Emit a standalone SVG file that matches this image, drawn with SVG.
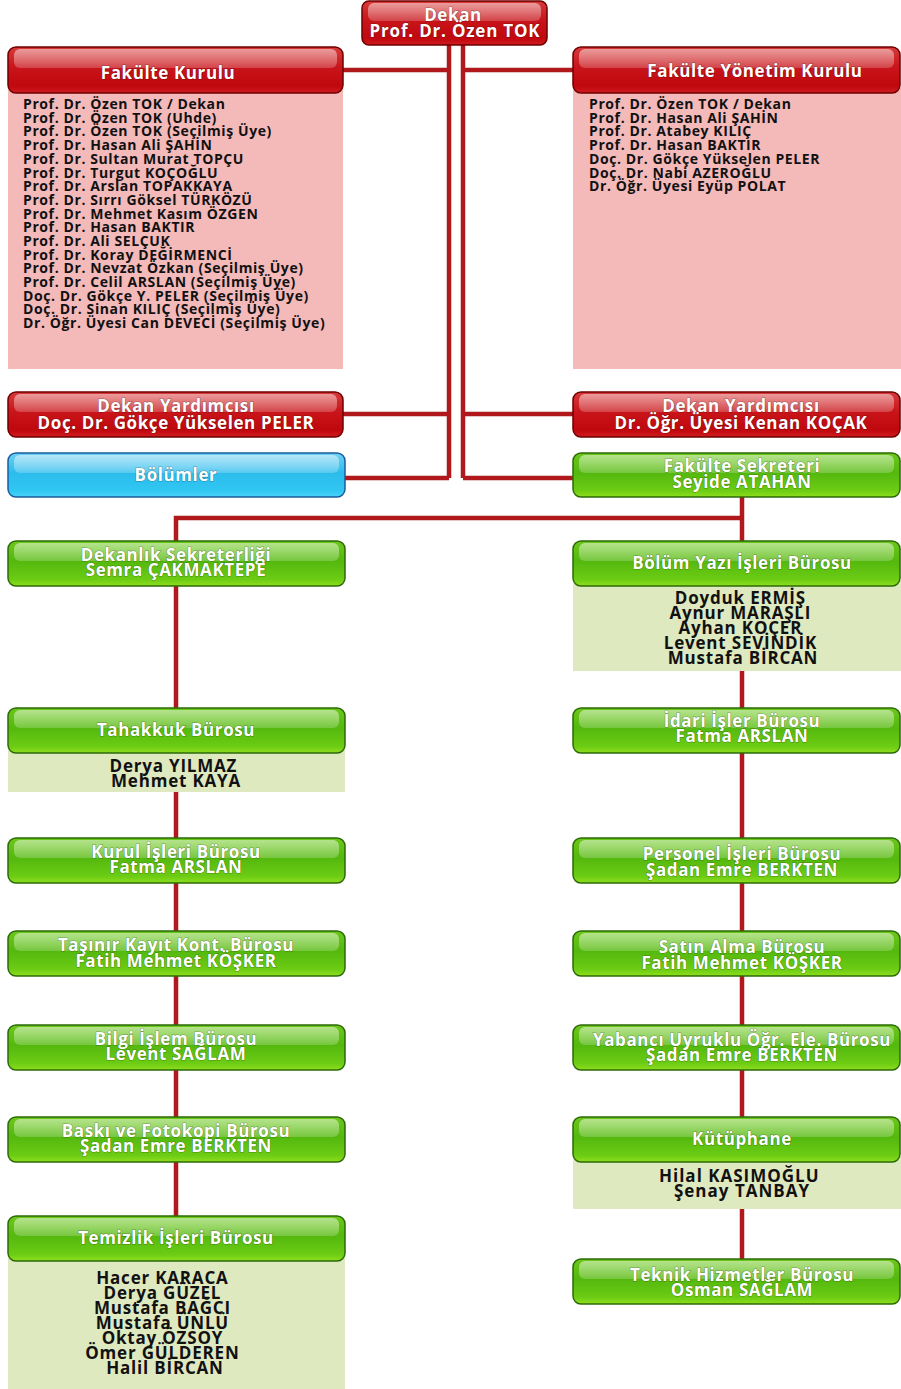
<svg xmlns="http://www.w3.org/2000/svg" width="901" height="1389" viewBox="0 0 901 1389">
<defs>
<linearGradient id="gRed" x1="0" y1="0" x2="0" y2="1">
<stop offset="0" stop-color="#d83a3a"/><stop offset="0.45" stop-color="#c8141a"/><stop offset="0.85" stop-color="#c0080e"/><stop offset="1" stop-color="#d01c20"/>
</linearGradient>
<linearGradient id="gGreen" x1="0" y1="0" x2="0" y2="1">
<stop offset="0" stop-color="#6cc81a"/><stop offset="0.45" stop-color="#54b80e"/><stop offset="0.85" stop-color="#6ccc14"/><stop offset="1" stop-color="#8ede1c"/>
</linearGradient>
<linearGradient id="gBlue" x1="0" y1="0" x2="0" y2="1">
<stop offset="0" stop-color="#6fd0f4"/><stop offset="0.45" stop-color="#2cbcec"/><stop offset="0.85" stop-color="#30c6f2"/><stop offset="1" stop-color="#48d4fa"/>
</linearGradient>
<linearGradient id="gHl" x1="0" y1="0" x2="0" y2="1">
<stop offset="0" stop-color="#ffffff" stop-opacity="0.5"/><stop offset="1" stop-color="#ffffff" stop-opacity="0.2"/>
</linearGradient>
<style>
.red{fill:url(#gRed);stroke:#6e0000;stroke-width:1.5}
.green{fill:url(#gGreen);stroke:#2c6a08;stroke-width:1.5}
.blue{fill:url(#gBlue);stroke:#1a5c9c;stroke-width:1.5}
.hl{fill:url(#gHl)}
.pink{fill:#f4b9b9}
.lg{fill:#dfe9c0}
.ht{font-family:"Open Sans","DejaVu Sans",sans-serif;font-weight:700;font-size:17px;letter-spacing:0.6px;fill:#ffffff;text-anchor:middle;paint-order:stroke;stroke:#000000;stroke-opacity:0.3;stroke-width:1.2px}
.lt{font-family:"Open Sans","DejaVu Sans",sans-serif;font-weight:700;font-size:14px;letter-spacing:0.6px;fill:#111111}
.bt{font-family:"Open Sans","DejaVu Sans",sans-serif;font-weight:700;font-size:17px;letter-spacing:0.8px;fill:#111111;text-anchor:middle}
.conn{fill:none;stroke:#b0181c;stroke-width:4.5}
</style>
</defs>
<rect width="901" height="1389" fill="#ffffff"/>

<g id="connectors">
<path class="conn" d="M449 45 V478 M463 45 V478 M343 70 H449 M463 70 H573 M343 414 H449 M463 414 H573 M345 478 H449 M463 478 H573 M742 497 V518 H176 V1216 M742 518 V1259"/>
</g>

<g id="dekan">
<rect class="red" x="362" y="1" width="185" height="44" rx="7"/>
<rect class="hl" x="368" y="3" width="173" height="18" rx="6"/>
<text class="ht" x="453" y="21">Dekan</text>
<text class="ht" x="455" y="37" style="letter-spacing:0.8px">Prof. Dr. Özen TOK</text>
</g>

<g id="fakulte-kurulu">
<rect class="pink" x="8" y="88" width="335" height="281"/>
<rect class="red" x="8" y="47" width="335" height="46" rx="8"/>
<rect class="hl" x="14" y="49" width="323" height="19" rx="6"/>
<text class="ht" x="168" y="79">Fakülte Kurulu</text>
<text class="lt" x="23" y="109">
<tspan x="23" dy="0">Prof. Dr. Özen TOK / Dekan</tspan>
<tspan x="23" dy="13.7">Prof. Dr. Özen TOK (Uhde)</tspan>
<tspan x="23" dy="13.7">Prof. Dr. Özen TOK (Seçilmiş Üye)</tspan>
<tspan x="23" dy="13.7">Prof. Dr. Hasan Ali ŞAHİN</tspan>
<tspan x="23" dy="13.7">Prof. Dr. Sultan Murat TOPÇU</tspan>
<tspan x="23" dy="13.7">Prof. Dr. Turgut KOÇOĞLU</tspan>
<tspan x="23" dy="13.7">Prof. Dr. Arslan TOPAKKAYA</tspan>
<tspan x="23" dy="13.7">Prof. Dr. Sırrı Göksel TÜRKÖZÜ</tspan>
<tspan x="23" dy="13.7">Prof. Dr. Mehmet Kasım ÖZGEN</tspan>
<tspan x="23" dy="13.7">Prof. Dr. Hasan BAKTIR</tspan>
<tspan x="23" dy="13.7">Prof. Dr. Ali SELÇUK</tspan>
<tspan x="23" dy="13.7">Prof. Dr. Koray DEĞİRMENCİ</tspan>
<tspan x="23" dy="13.7">Prof. Dr. Nevzat Özkan (Seçilmiş Üye)</tspan>
<tspan x="23" dy="13.7">Prof. Dr. Celil ARSLAN (Seçilmiş Üye)</tspan>
<tspan x="23" dy="13.7">Doç. Dr. Gökçe Y. PELER (Seçilmiş Üye)</tspan>
<tspan x="23" dy="13.7">Doç. Dr. Sinan KILIÇ (Seçilmiş Üye)</tspan>
<tspan x="23" dy="13.7">Dr. Öğr. Üyesi Can DEVECİ (Seçilmiş Üye)</tspan>
</text>
</g>

<g id="fakulte-yonetim-kurulu">
<rect class="pink" x="573" y="88" width="328" height="281"/>
<rect class="red" x="573" y="47" width="327" height="46" rx="8"/>
<rect class="hl" x="579" y="49" width="315" height="19" rx="6"/>
<text class="ht" x="755" y="77">Fakülte Yönetim Kurulu</text>
<text class="lt" x="589" y="109">
<tspan x="589" dy="0">Prof. Dr. Özen TOK / Dekan</tspan>
<tspan x="589" dy="13.7">Prof. Dr. Hasan Ali ŞAHİN</tspan>
<tspan x="589" dy="13.7">Prof. Dr. Atabey KILIÇ</tspan>
<tspan x="589" dy="13.7">Prof. Dr. Hasan BAKTIR</tspan>
<tspan x="589" dy="13.7">Doç. Dr. Gökçe Yükselen PELER</tspan>
<tspan x="589" dy="13.7">Doç. Dr. Nabi AZEROĞLU</tspan>
<tspan x="589" dy="13.7">Dr. Öğr. Üyesi Eyüp POLAT</tspan>
</text>
</g>

<g id="dekan-yrd-1">
<rect class="red" x="8" y="392" width="335" height="45" rx="8"/>
<rect class="hl" x="14" y="394" width="323" height="18" rx="6"/>
<text class="ht" x="176" y="412">Dekan Yardımcısı</text>
<text class="ht" x="176" y="429">Doç. Dr. Gökçe Yükselen PELER</text>
</g>

<g id="dekan-yrd-2">
<rect class="red" x="573" y="392" width="327" height="45" rx="8"/>
<rect class="hl" x="579" y="394" width="315" height="18" rx="6"/>
<text class="ht" x="741" y="412">Dekan Yardımcısı</text>
<text class="ht" x="741" y="429">Dr. Öğr. Üyesi Kenan KOÇAK</text>
</g>

<g id="bolumler">
<rect class="blue" x="8" y="453" width="337" height="44" rx="8"/>
<rect class="hl" x="14" y="455" width="325" height="18" rx="6"/>
<text class="ht" x="176" y="481">Bölümler</text>
</g>

<g id="fakulte-sekreteri">
<rect class="green" x="573" y="453" width="327" height="44" rx="8"/>
<rect class="hl" x="579" y="455" width="315" height="18" rx="6"/>
<text class="ht" x="742" y="472">Fakülte Sekreteri</text>
<text class="ht" x="742" y="488">Seyide ATAHAN</text>
</g>

<g id="dekanlik-sekreterligi">
<rect class="green" x="8" y="541" width="337" height="45" rx="8"/>
<rect class="hl" x="14" y="543" width="325" height="18" rx="6"/>
<text class="ht" x="176" y="561">Dekanlık Sekreterliği</text>
<text class="ht" x="176" y="576">Semra ÇAKMAKTEPE</text>
</g>

<g id="bolum-yazi-isleri">
<rect class="lg" x="573" y="580" width="328" height="91"/>
<rect class="green" x="573" y="541" width="327" height="45" rx="8"/>
<rect class="hl" x="579" y="543" width="315" height="18" rx="6"/>
<text class="ht" x="742" y="569">Bölüm Yazı İşleri Bürosu</text>
<text class="bt" x="743" y="604">
<tspan x="743" dy="0">Doyduk ERMİŞ</tspan>
<tspan x="743" dy="15">Aynur MARAŞLI</tspan>
<tspan x="743" dy="15">Ayhan KOÇER</tspan>
<tspan x="743" dy="15">Levent SEVİNDİK</tspan>
<tspan x="743" dy="15">Mustafa BİRCAN</tspan>
</text>
</g>

<g id="tahakkuk">
<rect class="lg" x="8" y="747" width="337" height="45"/>
<rect class="green" x="8" y="708" width="337" height="45" rx="8"/>
<rect class="hl" x="14" y="710" width="325" height="18" rx="6"/>
<text class="ht" x="176" y="736">Tahakkuk Bürosu</text>
<text class="bt" x="176" y="772">
<tspan x="176" dy="0">Derya YILMAZ</tspan>
<tspan x="176" dy="15">Mehmet KAYA</tspan>
</text>
</g>

<g id="idari-isler">
<rect class="green" x="573" y="708" width="327" height="45" rx="8"/>
<rect class="hl" x="579" y="710" width="315" height="18" rx="6"/>
<text class="ht" x="742" y="727">İdari İşler Bürosu</text>
<text class="ht" x="742" y="742">Fatma ARSLAN</text>
</g>

<g id="kurul-isleri">
<rect class="green" x="8" y="838" width="337" height="45" rx="8"/>
<rect class="hl" x="14" y="840" width="325" height="18" rx="6"/>
<text class="ht" x="176" y="858">Kurul İşleri Bürosu</text>
<text class="ht" x="176" y="873">Fatma ARSLAN</text>
</g>

<g id="personel-isleri">
<rect class="green" x="573" y="838" width="327" height="45" rx="8"/>
<rect class="hl" x="579" y="840" width="315" height="18" rx="6"/>
<text class="ht" x="742" y="860">Personel İşleri Bürosu</text>
<text class="ht" x="742" y="876">Şadan Emre BERKTEN</text>
</g>

<g id="tasinir-kayit">
<rect class="green" x="8" y="931" width="337" height="45" rx="8"/>
<rect class="hl" x="14" y="933" width="325" height="18" rx="6"/>
<text class="ht" x="176" y="951">Taşınır Kayıt Kont. Bürosu</text>
<text class="ht" x="176" y="967">Fatih Mehmet KÖŞKER</text>
</g>

<g id="satin-alma">
<rect class="green" x="573" y="931" width="327" height="45" rx="8"/>
<rect class="hl" x="579" y="933" width="315" height="18" rx="6"/>
<text class="ht" x="742" y="953">Satın Alma Bürosu</text>
<text class="ht" x="742" y="969">Fatih Mehmet KÖŞKER</text>
</g>

<g id="bilgi-islem">
<rect class="green" x="8" y="1025" width="337" height="45" rx="8"/>
<rect class="hl" x="14" y="1027" width="325" height="18" rx="6"/>
<text class="ht" x="176" y="1045">Bilgi İşlem Bürosu</text>
<text class="ht" x="176" y="1060">Levent SAĞLAM</text>
</g>

<g id="yabanci-uyruklu">
<rect class="green" x="573" y="1025" width="327" height="45" rx="8"/>
<rect class="hl" x="579" y="1027" width="315" height="18" rx="6"/>
<text class="ht" x="742" y="1046">Yabancı Uyruklu Öğr. Ele. Bürosu</text>
<text class="ht" x="742" y="1061">Şadan Emre BERKTEN</text>
</g>

<g id="baski-fotokopi">
<rect class="green" x="8" y="1117" width="337" height="45" rx="8"/>
<rect class="hl" x="14" y="1119" width="325" height="18" rx="6"/>
<text class="ht" x="176" y="1137">Baskı ve Fotokopi Bürosu</text>
<text class="ht" x="176" y="1152">Şadan Emre BERKTEN</text>
</g>

<g id="kutuphane">
<rect class="lg" x="573" y="1156" width="328" height="53"/>
<rect class="green" x="573" y="1117" width="327" height="45" rx="8"/>
<rect class="hl" x="579" y="1119" width="315" height="18" rx="6"/>
<text class="ht" x="742" y="1145">Kütüphane</text>
<text class="bt" x="742" y="1182" style="letter-spacing:1px">
<tspan x="742" dy="0">Hilal KASIMOĞLU</tspan>
<tspan x="742" dy="15">Şenay TANBAY</tspan>
</text>
</g>

<g id="temizlik-isleri">
<rect class="lg" x="8" y="1255" width="337" height="134"/>
<rect class="green" x="8" y="1216" width="337" height="45" rx="8"/>
<rect class="hl" x="14" y="1218" width="325" height="18" rx="6"/>
<text class="ht" x="176" y="1244">Temizlik İşleri Bürosu</text>
<text class="bt" x="165" y="1284">
<tspan x="165" dy="0">Hacer KARACA</tspan>
<tspan x="165" dy="15">Derya GÜZEL</tspan>
<tspan x="165" dy="15">Mustafa BAĞCI</tspan>
<tspan x="165" dy="15">Mustafa ÜNLÜ</tspan>
<tspan x="165" dy="15">Oktay ÖZSOY</tspan>
<tspan x="165" dy="15">Ömer GÜLDEREN</tspan>
<tspan x="165" dy="15">Halil BİRCAN</tspan>
</text>
</g>

<g id="teknik-hizmetler">
<rect class="green" x="573" y="1259" width="327" height="45" rx="8"/>
<rect class="hl" x="579" y="1261" width="315" height="18" rx="6"/>
<text class="ht" x="742" y="1281">Teknik Hizmetler Bürosu</text>
<text class="ht" x="742" y="1296">Osman SAĞLAM</text>
</g>
</svg>
